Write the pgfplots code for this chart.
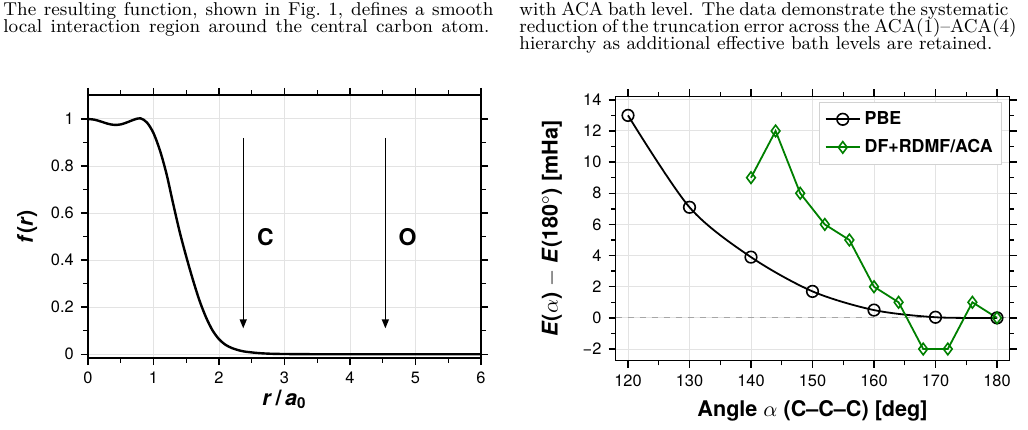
\documentclass[border=0pt]{standalone}
\usepackage{fontspec}
\setsansfont{TeX Gyre Heros}
\usepackage{pgfplots}
\pgfplotsset{compat=1.18}
\usetikzlibrary{arrows.meta}
\definecolor{dfgreen}{rgb}{0,0.5,0}
\definecolor{gridgray}{gray}{0.89}
\newcommand{\labfont}{\sffamily\bfseries\fontsize{10.8}{12}\selectfont}
\pgfplotsset{
  myaxis/.style={
    scale only axis,
    axis line style={line width=0.75pt},
    tick align=outside, tick pos=both,
    major tick length=3.6pt, minor tick length=2.3pt,
    every tick/.style={black, line width=0.7pt},
    grid=major, major grid style={gridgray, line width=0.5pt},
    tick label style={font=\sffamily\fontsize{8.2}{9}\selectfont},
    /pgf/number format/assume math mode=true,
  }
}
\begin{document}
\begin{tikzpicture}
\useasboundingbox (0,0) rectangle (514pt,214.5pt);
% paper text
\begin{scope}[every node/.style={anchor=base west, inner sep=0pt, font=\fontsize{9.3}{11}\selectfont}]
\node at (1.5pt,206.5pt) {\hbox to 245pt{The resulting function, shown in Fig.\ 1, defines a smooth}};
\node at (1.5pt,198.15pt) {\hbox to 243pt{local interaction region around the central carbon atom.}};
\node at (259.5pt,206.5pt) {\hbox to 244.5pt{with ACA bath level. The data demonstrate the systematic}};
\node at (259.5pt,198.15pt) {\hbox to 244.5pt{reduction of the truncation error across the ACA(1)--ACA(4)}};
\node at (259.5pt,189.8pt) {\hbox to 236.5pt{hierarchy as additional effective bath levels are retained.}};
\end{scope}
% left plot
\begin{axis}[myaxis,
  at={(44pt,35.5pt)}, anchor=south west,
  width=196.5pt, height=131.5pt,
  xmin=0, xmax=6, ymin=-0.016, ymax=1.102,
  xtick={0,1,2,3,4,5,6}, ytick={0,0.2,0.4,0.6,0.8,1},
  minor x tick num=1, minor y tick num=1,
  xlabel={\textit{r}\,/\,\textit{a}\textsubscript{0}},
  ylabel={\textit{f}(\textit{r})},
  every axis x label/.style={at={(axis description cs:0.5,-0.179)}, anchor=base, font=\labfont},
  every axis y label/.style={at={(axis description cs:-0.155,0.5)}, rotate=90, anchor=center, font=\labfont},
]
\addplot[black, line width=1.2pt, smooth] coordinates {
(0,1.000)(0.1,0.997)(0.2,0.989)(0.3,0.980)(0.4,0.975)(0.5,0.977)(0.6,0.986)
(0.7,0.997)(0.8,1.003)(0.9,0.985)(1.0,0.94)(1.1,0.865)(1.2,0.765)(1.3,0.64)
(1.4,0.52)(1.5,0.415)(1.6,0.318)(1.7,0.23)(1.8,0.158)(1.9,0.102)(2.0,0.064)
(2.1,0.040)(2.2,0.026)(2.3,0.017)(2.4,0.011)(2.6,0.005)(2.8,0.002)(3.0,0.001)(3.5,0)(4,0)(5,0)(6,0)};
\draw[line width=0.65pt, -{Triangle[length=4.5pt,width=3.5pt]}] (axis cs:2.37,0.92) -- (axis cs:2.37,0.11);
\draw[line width=0.65pt, -{Triangle[length=4.5pt,width=3.5pt]}] (axis cs:4.54,0.92) -- (axis cs:4.54,0.11);
\node[font=\sffamily\bfseries\fontsize{11.5}{12}\selectfont] at (axis cs:2.71,0.5) {C};
\node[font=\sffamily\bfseries\fontsize{11.5}{12}\selectfont] at (axis cs:4.88,0.5) {O};
\end{axis}
% right plot
\begin{axis}[myaxis,
  at={(307.85pt,34.15pt)}, anchor=south west,
  width=196.8pt, height=132pt,
  xmin=118, xmax=182, ymin=-2.75, ymax=14.2,
  xtick={120,130,...,180}, ytick={-2,0,2,4,6,8,10,12,14},
  yticklabels={−2,0,2,4,6,8,10,12,14},
  minor x tick num=1, minor y tick num=1,
  xlabel={Angle $\alpha$ (C--C--C) [deg]},
  ylabel={\textit{E}($\alpha$) $-$ \textit{E}(180$^\circ$) [mHa]},
  every axis x label/.style={at={(axis description cs:0.5,-0.212)}, anchor=base, font=\labfont},
  every axis y label/.style={at={(axis description cs:-0.162,0.5)}, rotate=90, anchor=center, font=\labfont},
  legend style={at={(0.982,0.981)}, anchor=north east, draw=gray!35, line width=0.6pt,
    font=\sffamily\bfseries\fontsize{8.9}{10}\selectfont, row sep=2pt, inner sep=2.5pt},
  legend cell align=left,
]
\addplot[gray!70, dashed, line width=0.6pt, forget plot] coordinates {(118,0)(182,0)};
\addplot[black, line width=0.9pt, smooth, mark=o, mark size=2.9pt, mark options={solid, fill=white, line width=0.8pt}]
  coordinates {(120,13)(130,7.1)(140,3.9)(150,1.7)(160,0.5)(170,0.04)(180,0)};
\addplot[dfgreen, line width=0.9pt, mark=diamond, mark size=2.9pt, mark options={solid, fill=white, line width=0.8pt}]
  coordinates {(140,9)(144,12)(148,8)(152,6)(156,5)(160,2)(164,1)(168,-2)(172,-2)(176,1)(180,0)};
\legend{PBE, DF+RDMF/ACA}
\end{axis}
\end{tikzpicture}
\end{document}
